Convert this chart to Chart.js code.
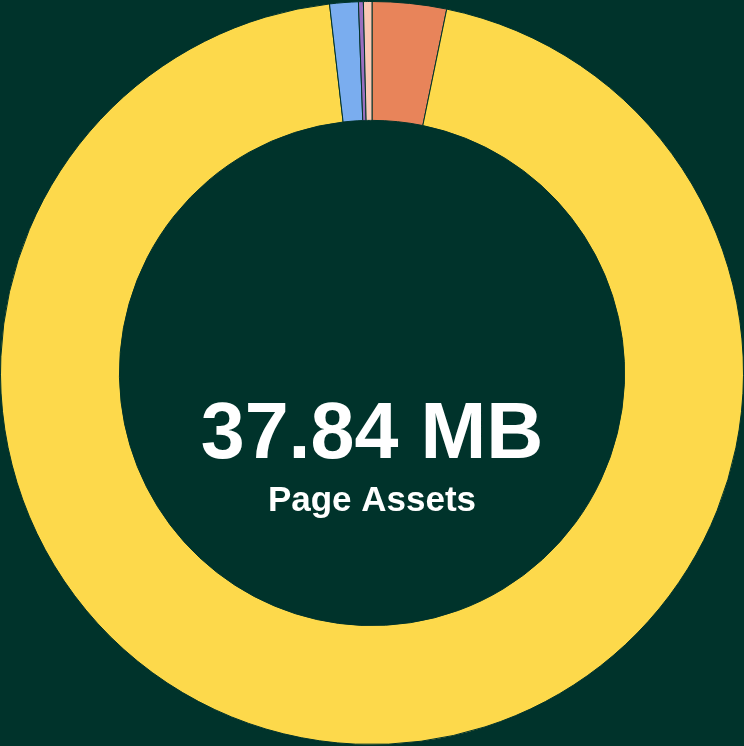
<!DOCTYPE html>
<html>
<head>
<meta charset="utf-8">
<script src="https://cdn.jsdelivr.net/npm/chart.js@4/dist/chart.umd.min.js"></script>
<style>
  html, body { margin: 0; padding: 0; background: #00332b; }
  #wrap { width: 744px; height: 746px; }
</style>
</head>
<body>
<div id="wrap"><canvas id="chart"></canvas></div>
<script>
// tamanhos por tipo de recurso (MB)
const categorias = ['JavaScript', 'Images', 'CSS', 'Fonts', 'HTML'];
const tamanhos = [1.22, 35.93, 0.47, 0.08, 0.14];
const cores = ['#e8845a', '#fdd94b', '#7aadef', '#9a6fc0', '#fbc9b4'];
const totalTexto = '37.84 MB';
const subTexto = 'Page Assets';

const textoCentro = {
    id: 'textoCentro',
    afterDraw(chart) {
        const ctx = chart.ctx;
        const meta = chart.getDatasetMeta(0).data[0];
        const x = meta.x;
        const y = meta.y;
        ctx.save();
        ctx.fillStyle = '#ffffff';
        ctx.textAlign = 'center';
        ctx.textBaseline = 'alphabetic';
        ctx.font = 'bold 79px "Liberation Sans", Arial, sans-serif';
        ctx.fillText(totalTexto, x, y + 85);
        ctx.font = 'bold 35px "Liberation Sans", Arial, sans-serif';
        ctx.fillText(subTexto, x, y + 138);
        ctx.restore();
    }
};

const ctx = document.getElementById('chart').getContext('2d');
const chart = new Chart(ctx, {
    type: 'doughnut',
    data: {
        labels: categorias,
        datasets: [{
            data: tamanhos,
            backgroundColor: cores,
            borderColor: '#00332b',
            borderWidth: 1
        }]
    },
    options: {
        responsive: true,
        maintainAspectRatio: false,
        animation: false,
        cutout: '68%',
        layout: { padding: 0 },
        plugins: {
            legend: { display: false },
            tooltip: { enabled: false }
        }
    },
    plugins: [textoCentro]
});
</script>
</body>
</html>
